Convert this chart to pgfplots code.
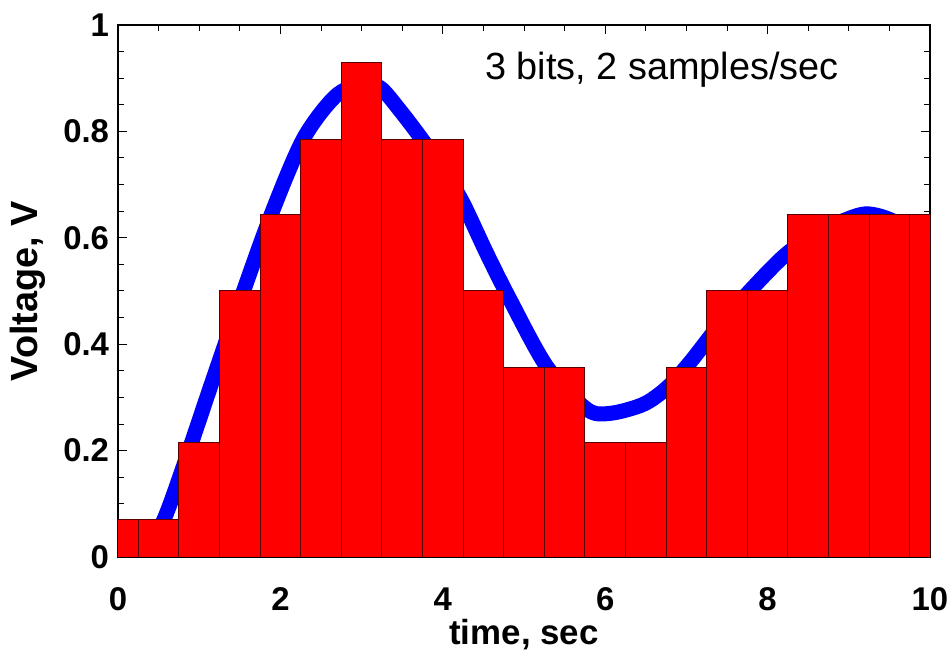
\documentclass[border=0pt]{standalone}
\usepackage{pgfplots}
\pgfplotsset{compat=1.18}
\usetikzlibrary{calc}
\usepackage{fontspec}
\setmainfont{Liberation Sans}

\definecolor{sigblue}{RGB}{0,0,255}
\definecolor{barred}{RGB}{255,0,0}
\definecolor{baredge}{RGB}{90,0,0}

\begin{document}
\begin{tikzpicture}
\begin{axis}[
  scale only axis,
  width=406bp, height=266bp,
  xmin=0, xmax=10, ymin=0, ymax=1,
  xtick={0,2,4,6,8,10},
  ytick={0,0.2,0.4,0.6,0.8,1},
  minor x tick num=3, minor y tick num=3,
  tick align=inside,
  major tick length=4.5bp, minor tick length=2.8bp,
  tick style={black, line width=0.5pt},
  axis line style={black, line width=0.6pt},
  /pgf/number format/assume math mode=true,
  ticklabel style={font=\fontsize{16.5}{16.5}\selectfont\bfseries},
  xticklabel style={yshift=-12bp},
  yticklabel style={xshift=-1bp},
  xlabel={time, sec},
  ylabel={Voltage, V},
  xlabel style={font=\fontsize{17.5}{17.5}\selectfont\bfseries,
    at={(axis description cs:0.5,-0.1654)}, anchor=base},
  ylabel style={font=\fontsize{19}{19}\selectfont\bfseries,
    at={(axis description cs:-0.111,0.5)}, anchor=center},
]
% analog input signal
\addplot[sigblue, line width=7.5bp, smooth, line join=round] coordinates {
  (0.00,0.000) (0.30,0.015) (0.55,0.065) (0.85,0.190) (1.15,0.325)
  (1.50,0.480) (1.89,0.645) (2.28,0.785) (2.67,0.865) (3.00,0.890)
  (3.23,0.882) (3.47,0.840) (3.72,0.790) (4.00,0.730) (4.25,0.665)
  (4.54,0.571) (4.83,0.483) (5.28,0.358) (5.77,0.278) (6.06,0.270)
  (6.47,0.287) (6.76,0.318) (7.04,0.365) (7.40,0.435) (7.78,0.500)
  (8.19,0.564) (8.55,0.605) (8.93,0.632) (9.22,0.645) (9.54,0.632)
  (10.0,0.590)
};
% 3-bit quantised samples, 2 per second
\addplot[ybar, bar width=0.5, fill=barred, draw=baredge, line width=0.5bp] coordinates {
  (0.0,0.0714) (0.5,0.0714) (1.0,0.2143) (1.5,0.5000) (2.0,0.6429)
  (2.5,0.7857) (3.0,0.9286) (3.5,0.7857) (4.0,0.7857) (4.5,0.5000)
  (5.0,0.3571) (5.5,0.3571) (6.0,0.2143) (6.5,0.2143) (7.0,0.3571)
  (7.5,0.5000) (8.0,0.5000) (8.5,0.6429) (9.0,0.6429) (9.5,0.6429)
  (10.0,0.6429)
};
\node[anchor=base, font=\fontsize{19}{19}\selectfont] at (axis cs:6.70,0.897) {3 bits, 2 samples/sec};
\end{axis}
% fixed page frame around the plot box
\pgfresetboundingbox
\path[use as bounding box] ($(current axis.south west)+(-59bp,-49bp)$)
  rectangle ($(current axis.north east)+(10bp,12.5bp)$);
\end{tikzpicture}
\end{document}
